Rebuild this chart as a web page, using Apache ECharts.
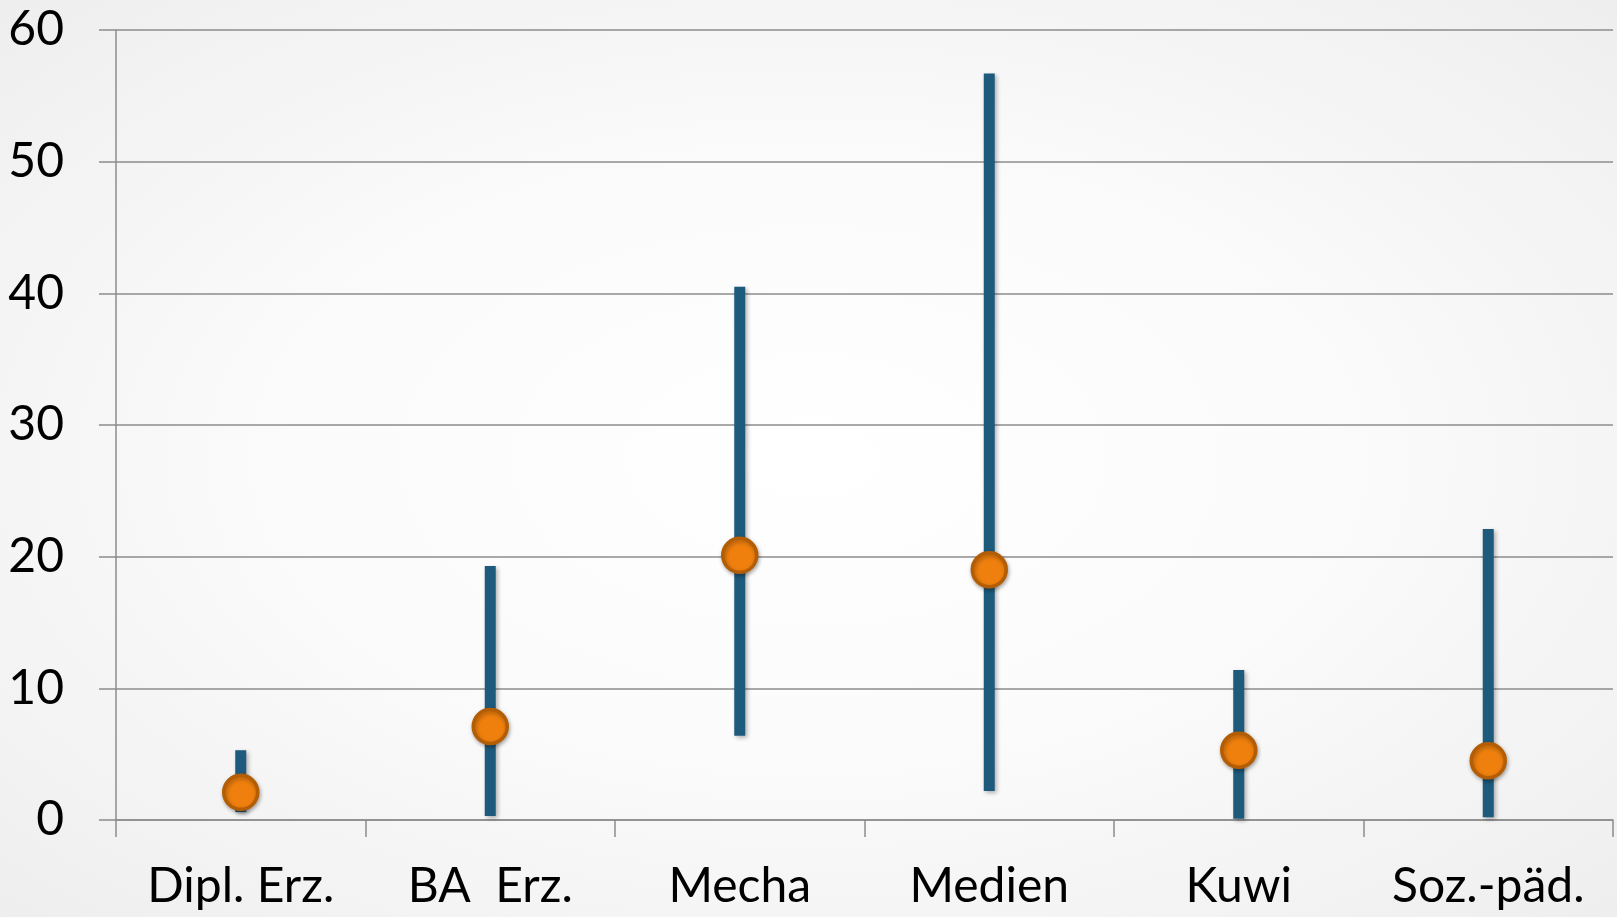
<!DOCTYPE html>
<html>
<head>
<meta charset="utf-8">
<script src="https://cdn.jsdelivr.net/npm/echarts@6/dist/echarts.min.js"></script>
<style>
html,body{margin:0;padding:0;width:1617px;height:917px;overflow:hidden;}
body{background:radial-gradient(ellipse at 50% 50%, #ffffff 0%, #fbfbfb 45%, #eeeeee 100%);}
#c{width:1617px;height:917px;}
</style>
</head>
<body>
<div id="c"></div>
<script>
const categories = ['Dipl. Erz.', 'BA  Erz.', 'Mecha', 'Medien', 'Kuwi', 'Soz.-päd.'];
const lowValues  = [0.6, 0.3, 6.4, 2.2, 0.1, 0.2];
const highValues = [5.3, 19.3, 40.5, 56.7, 11.4, 22.1];
const meanValues = [2.1, 7.1, 20.1, 19.0, 5.3, 4.5];
const yTicks = [0, 10, 20, 30, 40, 50, 60];

const rangeValues = highValues.map((h, i) => +(h - lowValues[i]).toFixed(2));
const FONT = 'Lato, "Open Sans", sans-serif';

const chart = echarts.init(document.getElementById('c'), null, {renderer: 'canvas'});
chart.setOption({
  backgroundColor: 'transparent',
  animation: false,
  grid: {left: 116, right: 4, top: 30, bottom: 97, containLabel: false},
  xAxis: {
    type: 'category',
    data: categories,
    boundaryGap: true,
    axisLine: {lineStyle: {color: '#8c8c8c', width: 1.5}},
    axisTick: {show: true, interval: 0, length: 17, lineStyle: {color: '#8c8c8c', width: 1.5}},
    axisLabel: {color: '#000', fontFamily: FONT, fontSize: 48, margin: 43, interval: 0, hideOverlap: false}
  },
  yAxis: {
    type: 'value',
    min: yTicks[0], max: yTicks[yTicks.length - 1], interval: 10,
    axisLine: {show: true, lineStyle: {color: '#8c8c8c', width: 1.5}},
    axisTick: {show: true, length: 17, lineStyle: {color: '#8c8c8c', width: 1.5}},
    splitLine: {show: true, lineStyle: {color: '#8c8c8c', width: 1.5}},
    axisLabel: {color: '#000', fontFamily: FONT, fontSize: 48, margin: 52}
  },
  series: [
    {
      type: 'bar', stack: 'r', data: lowValues, barWidth: 11,
      itemStyle: {color: 'transparent'}, silent: true
    },
    {
      type: 'bar', stack: 'r', data: rangeValues, barWidth: 11,
      itemStyle: {color: '#1d5a7c', shadowBlur: 4, shadowOffsetX: 2, shadowOffsetY: 2, shadowColor: 'rgba(0,0,0,0.3)'}
    },
    {
      type: 'scatter', data: meanValues, symbol: 'circle', symbolSize: 34, z: 5,
      itemStyle: {color: '#f0800e', opacity: 1, borderColor: '#b35d05', borderWidth: 3.5,
        shadowBlur: 4, shadowOffsetX: 1, shadowOffsetY: 2, shadowColor: 'rgba(0,0,0,0.3)'}
    }
  ]
});
</script>
</body>
</html>
